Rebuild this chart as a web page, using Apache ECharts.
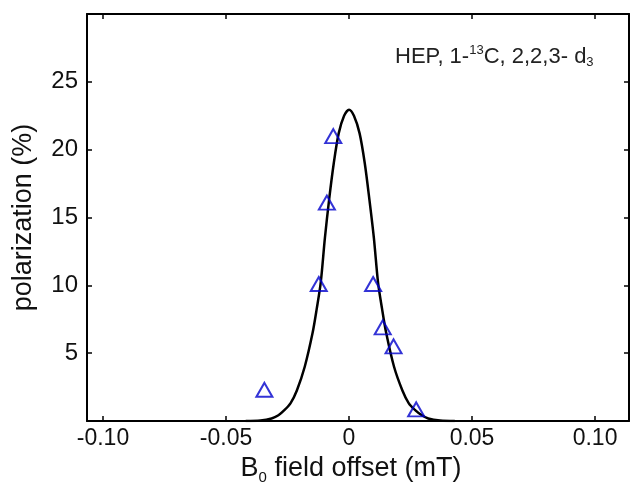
<!DOCTYPE html>
<html>
<head>
<meta charset="utf-8">
<script src="https://cdn.jsdelivr.net/npm/echarts@6/dist/echarts.min.js"></script>
<style>
html,body{margin:0;padding:0;background:#fff;}
#chart{width:632px;height:492px;}
</style>
</head>
<body>
<div id="chart"></div>
<script>
// Measured data points (B0 field offset in mT, polarization in %)
const pointX = [-0.0344, -0.0123, -0.0090, -0.0064, 0.0098, 0.0137, 0.0181, 0.0273];
const pointY = [2.3, 10.1, 16.1, 21.0, 10.1, 6.9, 5.5, 0.86];

// Fitted curve
const curveX = [-0.0420, -0.0360, -0.0315, -0.0287, -0.0264, -0.0238, -0.0212, -0.0180, -0.0148, -0.0131, -0.0115, -0.0098, -0.0081, -0.0062, -0.0042, -0.0020, 0.0000, 0.0020, 0.0043, 0.0064, 0.0083, 0.0101, 0.0118, 0.0134, 0.0151, 0.0183, 0.0217, 0.0243, 0.0270, 0.0296, 0.0322, 0.0370, 0.0430];
const curveY = [0.0, 0.03, 0.18, 0.42, 0.78, 1.30, 2.25, 4.0, 6.5, 8.3, 10.2, 13.5, 16.3, 19.0, 21.2, 22.5, 22.95, 22.5, 21.2, 19.0, 16.3, 13.5, 10.2, 8.3, 6.5, 4.0, 2.25, 1.30, 0.78, 0.42, 0.18, 0.03, 0.0];

// Axis settings
const xRange = [-0.1065, 0.1138];
const yRange = [0, 30];
const yTickStep = 5;

const FONT = 'Liberation Sans, Arial, Helvetica, sans-serif';

const chart = echarts.init(document.getElementById('chart'), null, {renderer: 'canvas'});

const axisLineStyle = {color: '#000', width: 2};
const tickStyle = {color: '#000', width: 1.5};

function fmtX(v) {
  if (Math.abs(v) < 1e-9) return '0';
  return v.toFixed(2);
}

const option = {
  backgroundColor: '#fff',
  animation: false,
  grid: {left: 87, right: 3, top: 14, bottom: 71, containLabel: false},
  xAxis: [{
    type: 'value',
    min: xRange[0], max: xRange[1],
    splitNumber: 5,
    position: 'bottom',
    name: 'B{sub|0} field offset (mT)',
    nameLocation: 'middle',
    nameGap: 29,
    nameTextStyle: {
      fontFamily: FONT, fontSize: 27, color: '#111',
      padding: [0, 14, 0, 0],
      rich: {sub: {fontFamily: FONT, fontSize: 15, color: '#111', verticalAlign: 'bottom', padding: [18, 0, 0, 0]}}
    },
    axisLine: {show: true, onZero: false, lineStyle: axisLineStyle},
    axisTick: {show: true, inside: true, length: 5, lineStyle: tickStyle},
    axisLabel: {
      show: true, showMinLabel: false, showMaxLabel: false,
      fontFamily: FONT, fontSize: 23, color: '#111', margin: 6,
      formatter: fmtX
    },
    splitLine: {show: false}
  }, {
    type: 'value',
    min: xRange[0], max: xRange[1],
    splitNumber: 5,
    position: 'top',
    axisLine: {show: true, onZero: false, lineStyle: axisLineStyle},
    axisTick: {show: true, inside: true, length: 5, lineStyle: tickStyle},
    axisLabel: {show: false},
    splitLine: {show: false}
  }],
  yAxis: [{
    type: 'value',
    min: yRange[0], max: yRange[1], interval: yTickStep,
    position: 'left',
    name: 'polarization (%)',
    nameLocation: 'middle',
    nameGap: 50,
    nameTextStyle: {fontFamily: FONT, fontSize: 27, color: '#111'},
    axisLine: {show: true, onZero: false, lineStyle: axisLineStyle},
    axisTick: {show: true, inside: true, length: 5, lineStyle: tickStyle},
    axisLabel: {
      show: true, showMinLabel: false, showMaxLabel: false,
      fontFamily: FONT, fontSize: 24, color: '#111', margin: 9
    },
    splitLine: {show: false}
  }, {
    type: 'value',
    min: yRange[0], max: yRange[1], interval: yTickStep,
    position: 'right',
    axisLine: {show: true, onZero: false, lineStyle: axisLineStyle},
    axisTick: {show: true, inside: true, length: 5, lineStyle: tickStyle},
    axisLabel: {show: false},
    splitLine: {show: false}
  }],
  graphic: [{
    type: 'text',
    left: 395, top: 44,
    style: {
      text: 'HEP, 1-{sup|13}C, 2,2,3- d{sub|3}',
      fontFamily: FONT, fontSize: 22, fill: '#222',
      rich: {
        sup: {fontFamily: FONT, fontSize: 13, fill: '#222', padding: [0, 0, 12, 0]},
        sub: {fontFamily: FONT, fontSize: 13, fill: '#222', padding: [12, 0, 0, 0]}
      }
    }
  }],
  series: [{
    type: 'line',
    xAxisIndex: 0, yAxisIndex: 0,
    data: curveX.map((x, i) => [x, curveY[i]]),
    smooth: 0.3,
    showSymbol: false,
    symbol: 'none',
    lineStyle: {color: '#000', width: 2.5},
    z: 2
  }, {
    type: 'scatter',
    xAxisIndex: 0, yAxisIndex: 0,
    data: pointX.map((x, i) => [x, pointY[i]]),
    symbol: 'triangle',
    symbolSize: [16, 14],
    itemStyle: {color: 'rgba(0,0,0,0)', borderColor: '#0000cc', borderWidth: 2},
    z: 3
  }]
};

chart.setOption(option);
</script>
</body>
</html>
